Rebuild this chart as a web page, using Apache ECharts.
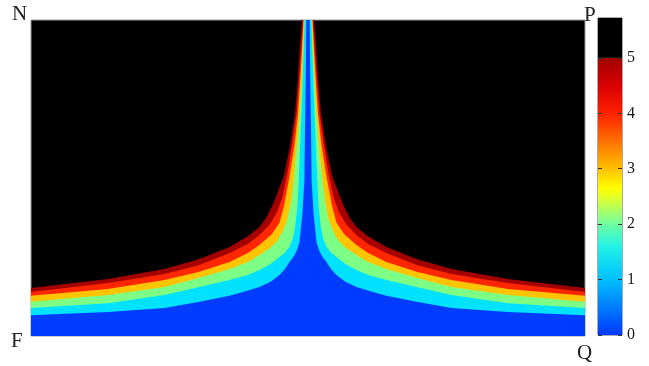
<!DOCTYPE html>
<html><head><meta charset="utf-8">
<script src="https://cdn.jsdelivr.net/npm/echarts@6/dist/echarts.min.js"></script>
<style>html,body{margin:0;padding:0;background:#fff}#c{width:649px;height:366px}</style>
</head><body><div id="c"></div>
<script>
// Contour boundaries: right half profile [distance from centre line (0..100), height (0..100)].
// The field is symmetric about the centre line, the left half is its mirror image.
const edge5 = [[2.2,100],[2.9,91.5],[3.7,80.7],[4.7,70.3],[6.5,60.1],[8.7,50.6],[10.3,47.0],[12.6,41.8],[15.0,37.5],[17.5,34.5],[21.7,31.6],[28.3,28.2],[39.2,24.4],[51.8,21.2],[72.2,18.0],[100,15.2]];
const edge45 = [[1.8,100],[2.5,90.2],[3.25,80.7],[4.15,70.3],[5.8,60.1],[7.6,50.6],[9.2,44.0],[11.2,39.2],[13.8,35.3],[17.5,32.0],[21.7,29.1],[28.3,26.3],[39.2,22.5],[51.8,19.6],[72.2,16.8],[100,13.9]];
const edge4 = [[1.6,100],[2.2,90.2],[2.8,80.7],[3.6,70.3],[4.9,60.1],[6.9,49.4],[8.7,41.1],[10.3,35.8],[13.0,32.3],[17.5,28.8],[21.7,26.3],[28.3,23.4],[39.2,20.3],[51.8,17.7],[72.2,14.9],[100,12.7]];
const edge3 = [[1.37,100],[1.8,90.2],[2.35,80.7],[3.0,70.3],[4.0,60.1],[5.2,49.4],[6.2,42.5],[7.4,37.0],[9.0,33.2],[11.0,30.2],[13.5,28.0],[17.5,25.6],[21.7,23.4],[28.3,21.2],[39.2,18.4],[51.8,15.5],[72.2,13.0],[100,10.8]];
const edge2 = [[1.19,100],[1.62,88.6],[2.17,75.9],[2.7,63.3],[3.36,49.4],[3.8,41.1],[4.7,34.2],[5.6,30.5],[6.7,28.2],[8.3,26.4],[10.3,25.0],[13.5,22.8],[17.5,20.9],[21.7,19.3],[28.3,17.7],[39.2,15.5],[51.8,13.0],[72.2,10.4],[100,8.9]];
const edge1 = [[0.58,100],[0.79,82.6],[1.08,65.2],[1.30,49.4],[1.99,38.9],[3.07,29.7],[3.9,27.4],[4.69,25.9],[5.6,24.6],[6.68,23.4],[8.3,21.2],[10.29,19.3],[13.5,17.2],[17.51,15.5],[23.47,13.9],[28.34,12.7],[39.17,10.8],[51.81,8.9],[72.2,7.6],[100,6.6]];

const bandEdges  = [edge5, edge45, edge4, edge3, edge2, edge1];
const bandColors = ['#a50000', '#ff2600', '#ffc400', '#7dff86', '#00e2ff', '#003cff'];
const aboveColor = '#000000';

const colorbarTicks = [0, 1, 2, 3, 4, 5];
const colorbarMax = 5.72;
const colorbarStops = [
  [0.00, '#0038ff'], [0.20, '#00c0ff'], [0.32, '#22f2e6'], [0.40, '#70ffa0'],
  [0.48, '#d0ff40'], [0.53, '#ffff00'], [0.60, '#ffc000'], [0.70, '#ff7000'],
  [0.80, '#ff2000'], [0.90, '#d80000'], [1.00, '#a00000']
];
const cornerLabels = { topLeft: 'N', topRight: 'P', bottomLeft: 'F', bottomRight: 'Q' };

function mirror(profile) {
  const left = profile.slice().reverse().map(p => [-p[0], p[1]]);
  return left.concat(profile.map(p => [p[0], p[1]]));
}

const chart = echarts.init(document.getElementById('c'), null, { renderer: 'canvas' });
const serif = '"Liberation Serif", "DejaVu Serif", serif';

const series = bandEdges.map((e, i) => ({
  type: 'line', xAxisIndex: 0, yAxisIndex: 0,
  data: mirror(e), symbol: 'none', smooth: false, silent: true,
  lineStyle: { width: 0 }, areaStyle: { color: bandColors[i], opacity: 1, origin: 'start' },
  z: 2 + i
}));
series.push({
  type: 'bar', xAxisIndex: 1, yAxisIndex: 1, stack: 'cb', barWidth: '100%', silent: true,
  data: [colorbarTicks[colorbarTicks.length - 1]],
  itemStyle: { color: new echarts.graphic.LinearGradient(0, 1, 0, 0, colorbarStops.map(s => ({ offset: s[0], color: s[1] }))) }
});
series.push({
  type: 'bar', xAxisIndex: 1, yAxisIndex: 1, stack: 'cb', barWidth: '100%', silent: true,
  data: [colorbarMax - colorbarTicks[colorbarTicks.length - 1]],
  itemStyle: { color: aboveColor }
});

chart.setOption({
  animation: false,
  backgroundColor: '#ffffff',
  grid: [
    { left: 31, top: 20, width: 554, height: 316, show: true, backgroundColor: aboveColor, borderColor: '#9a9a9a', borderWidth: 1 },
    { left: 598, top: 18, width: 24, height: 317, show: true, backgroundColor: '#fff', borderColor: '#555', borderWidth: 1 }
  ],
  xAxis: [
    { type: 'value', gridIndex: 0, min: -100, max: 100, show: false },
    { type: 'category', gridIndex: 1, data: [''], show: false, boundaryGap: true }
  ],
  yAxis: [
    { type: 'value', gridIndex: 0, min: 0, max: 100, show: false },
    { type: 'value', gridIndex: 1, min: 0, max: colorbarMax, interval: 1, position: 'right', z: 10,
      axisLine: { show: false }, splitLine: { show: false },
      axisTick: { show: true, inside: true, length: 4, customValues: colorbarTicks, lineStyle: { color: '#333', width: 1 } },
      axisLabel: { show: true, customValues: colorbarTicks, color: '#1a1a1a', fontSize: 16, fontFamily: serif, margin: 5 } },
    { type: 'value', gridIndex: 1, min: 0, max: colorbarMax, interval: 1, position: 'left', z: 10,
      axisLine: { show: false }, splitLine: { show: false },
      axisTick: { show: true, inside: true, length: 4, customValues: colorbarTicks, lineStyle: { color: '#333', width: 1 } },
      axisLabel: { show: false } }
  ],
  graphic: [
    { type: 'text', left: 12, top: 4, style: { text: cornerLabels.topLeft, font: '21px ' + serif, fill: '#222' } },
    { type: 'text', left: 584, top: 5, style: { text: cornerLabels.topRight, font: '21px ' + serif, fill: '#222' } },
    { type: 'text', left: 11, top: 331, style: { text: cornerLabels.bottomLeft, font: '21px ' + serif, fill: '#222' } },
    { type: 'text', left: 577, top: 343, style: { text: cornerLabels.bottomRight, font: '21px ' + serif, fill: '#222' } }
  ],
  series: series
});
</script></body></html>
